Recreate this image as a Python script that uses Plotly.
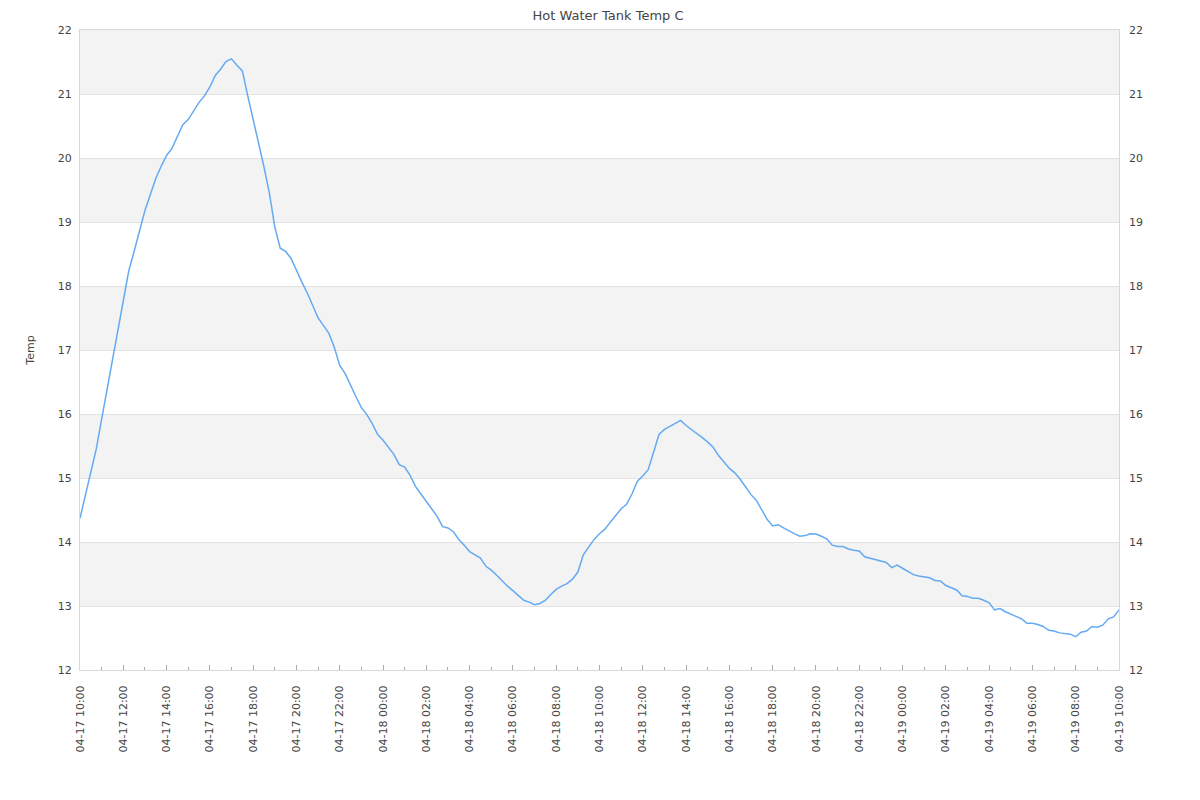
import plotly.graph_objects as go
import pandas as pd

title_text = "Hot Water Tank Temp C"
y_title = "Temp"
start_time = "2024-04-17 10:00"
interval = "15min"

temps = [
    14.37, 14.74, 15.09, 15.45, 15.92, 16.38, 16.87, 17.34, 17.82, 18.23,
    18.54, 18.86, 19.18, 19.43, 19.68, 19.87, 20.04, 20.15, 20.33, 20.52,
    20.60, 20.73, 20.87, 20.97, 21.11, 21.29, 21.39, 21.51, 21.55, 21.45,
    21.36, 20.97, 20.61, 20.24, 19.86, 19.45, 18.92, 18.59, 18.54, 18.43,
    18.24, 18.06, 17.89, 17.70, 17.50, 17.38, 17.26, 17.04, 16.76, 16.63,
    16.44, 16.27, 16.10, 15.99, 15.85, 15.68, 15.59, 15.47, 15.37, 15.21,
    15.17, 15.04, 14.87, 14.75, 14.63, 14.53, 14.40, 14.24, 14.22, 14.16,
    14.04, 13.95, 13.85, 13.80, 13.75, 13.62, 13.56, 13.48, 13.39, 13.31,
    13.24, 13.17, 13.09, 13.06, 13.02, 13.04, 13.09, 13.18, 13.26, 13.31,
    13.35, 13.42, 13.53, 13.80, 13.92, 14.04, 14.13, 14.20, 14.31, 14.42,
    14.52, 14.59, 14.75, 14.95, 15.03, 15.13, 15.39, 15.68, 15.76, 15.81,
    15.85, 15.90, 15.82, 15.76, 15.69, 15.63, 15.56, 15.48, 15.35, 15.25,
    15.15, 15.08, 14.98, 14.86, 14.74, 14.65, 14.49, 14.35, 14.25, 14.27,
    14.22, 14.17, 14.13, 14.09, 14.10, 14.13, 14.125, 14.09, 14.05, 13.95,
    13.93, 13.93, 13.89, 13.87, 13.86, 13.77, 13.75, 13.72, 13.71, 13.68,
    13.60, 13.64, 13.59, 13.54, 13.49, 13.47, 13.46, 13.44, 13.40, 13.39,
    13.32, 13.29, 13.25, 13.16, 13.15, 13.12, 13.12, 13.09, 13.05, 12.94,
    12.96, 12.91, 12.87, 12.84, 12.80, 12.73, 12.73, 12.71, 12.68, 12.62,
    12.61, 12.58, 12.57, 12.56, 12.52, 12.59, 12.61, 12.68, 12.67, 12.70,
    12.80, 12.83, 12.94,
]

y_range = [12, 22]
x_range = ["2024-04-17 10:00", "2024-04-19 10:00"]
grey_bands = [(13, 14), (15, 16), (17, 18), (19, 20), (21, 22)]

times = pd.date_range(start_time, periods=len(temps), freq=interval)

font_family = "DejaVu Sans, Verdana, sans-serif"
fig = go.Figure()
fig.add_trace(go.Scatter(
    x=times, y=temps, mode="lines",
    line=dict(color="#64aaf2", width=1.5),
    showlegend=False, name="Temp",
))
fig.add_trace(go.Scatter(
    x=times, y=temps, mode="lines", yaxis="y2",
    line=dict(color="rgba(0,0,0,0)", width=0),
    showlegend=False, hoverinfo="skip",
))

for lo, hi in grey_bands:
    fig.add_shape(type="rect", xref="paper", yref="y", x0=0, x1=1, y0=lo, y1=hi,
                  fillcolor="#f3f3f3", line=dict(width=0), layer="below")

axis_font = dict(family=font_family, size=11, color="#444")
fig.update_layout(
    width=1200, height=800,
    margin=dict(l=72, r=89, t=22, b=138),
    paper_bgcolor="white", plot_bgcolor="white",
    font=dict(family=font_family, size=11, color="#444"),
    title=dict(text=title_text, x=0.5, xanchor="center", y=0.996, yanchor="top",
               pad=dict(t=0, b=0, l=0, r=0),
               font=dict(family=font_family, size=13, color="#444")),
    xaxis=dict(
        type="date", range=x_range, automargin=False,
        tickformat="%m-%d %H:%M", dtick=2 * 3600 * 1000,
        tick0="2024-04-17 10:00",
        tickangle=-90, tickfont=axis_font,
        ticks="inside", ticklen=5, tickcolor="#aaa", tickwidth=1,
        minor=dict(dtick=3600 * 1000, ticks="inside", ticklen=3, tickcolor="#aaa", showgrid=False),
        showgrid=False, zeroline=False,
        showline=True, mirror=True, linecolor="#d8d8d8", linewidth=1,
        ticklabelstandoff=10,
    ),
    yaxis=dict(
        range=y_range, dtick=1, tickfont=axis_font, automargin=False,
        showgrid=True, gridcolor="#e2e2e2", gridwidth=1,
        zeroline=False, ticks="",
        showline=True, mirror=True, linecolor="#d8d8d8", linewidth=1,
        title=dict(text=y_title, font=dict(family=font_family, size=11, color="#444"), standoff=20),
        ticklabelstandoff=5,
    ),
    yaxis2=dict(
        range=y_range, dtick=1, overlaying="y", side="right", matches="y",
        automargin=False,
        tickfont=axis_font, showgrid=False, zeroline=False, ticks="",
        ticklabelstandoff=9,
    ),
)

fig.write_html("out.html")
